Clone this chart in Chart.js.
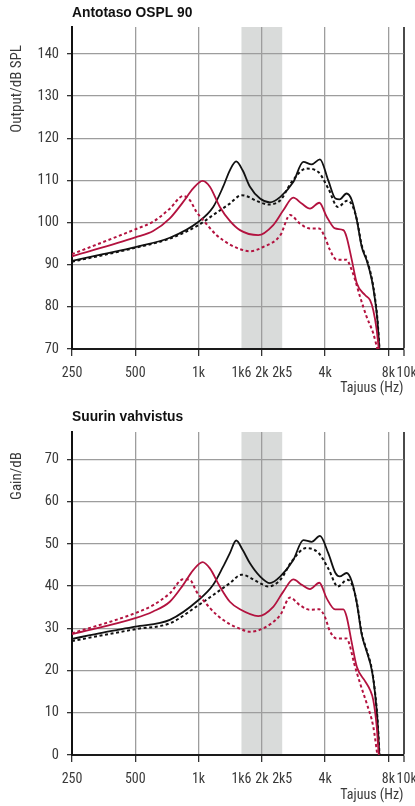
<!DOCTYPE html>
<html><head><meta charset="utf-8">
<script src="https://cdn.jsdelivr.net/npm/chart.js@4.4.1/dist/chart.umd.min.js"></script>
<style>
html,body{margin:0;padding:0;background:#fff;width:415px;height:806px;overflow:hidden}
.box{position:absolute;left:0;width:415px}
canvas{display:block}
</style></head><body>
<div class="box" style="top:0;height:403px"><canvas id="c1" width="415" height="403"></canvas></div>
<div class="box" style="top:405px;height:401px"><canvas id="c2" width="415" height="401"></canvas></div>
<script>
// ---------- data ----------
const xTickValues = [250, 500, 1000, 1600, 2000, 2500, 4000, 8000, 9440];
const xTickLabels = ['250', '500', '1k', '1k6', '2k', '2k5', '4k', '8k', '\u200210k'];
const outputTicks = [70, 80, 90, 100, 110, 120, 130, 140];
const gainTicks = [0, 10, 20, 30, 40, 50, 60, 70];
const bandFrom = 1600, bandTo = 2500;

// black solid
const freqBS = [250,351,500,730,1000,1174,1309,1409,1510,1620,1756,1960,2186,2450,2823,3150,3450,3780,4140,4480,4690,5060,5360,5660,5975,6310,6670,6915,7090,7250];
const osplBS = [90.9,92.5,94.2,96.4,100.2,103.7,108.5,112.4,114.5,112.4,108.5,105.7,104.8,106.1,109.6,114.4,113.8,115.0,110.0,105.7,105.5,106.9,105.3,100.6,94.2,91.0,86.4,81.6,76.9,70];
const gainBS = [27.5,29.0,30.4,32.0,36.7,40.3,44.6,47.8,50.8,48.6,45.4,42.3,40.7,42.3,46.2,50.9,50.5,51.9,47.8,43.1,42.3,43.1,41.1,36.0,28.5,24.5,20.1,14.5,8.5,0];

// black dotted
const freqBD = [250,500,730,1000,1174,1409,1600,1960,2144,2450,2770,3250,3712,4140,4600,5100,5360,5660,5975,6310,6670,6915,7090,7260];
const osplBD = [90.7,94.0,96.2,99.4,101.8,104.5,106.5,104.8,104.3,105.3,109.6,112.8,112.0,108.1,103.7,105.2,104.3,100.8,94.6,91.3,86.8,82.0,77.3,70];
const gainBD = [27.0,29.8,31.2,35.5,37.9,40.7,42.7,40.7,39.9,41.5,45.8,49.0,47.9,44.2,39.9,41.5,40.5,36.2,28.8,24.8,20.4,14.8,9.0,0];

// red solid
const freqRS = [250,500,608,730,845,943,1045,1132,1263,1409,1574,1923,2266,2530,2823,3095,3390,3755,4070,4460,4885,5060,5360,5660,6195,6545,6780,7040,7200];
const osplRS = [92.0,96.5,98.0,101.0,104.9,108.1,109.9,108.5,103.7,100.4,98.2,97.0,99.4,102.9,105.9,104.5,103.3,104.7,101.4,98.6,98.2,96.6,91.1,85.6,82.8,81.6,79.2,74.5,70];
const gainRS = [28.6,32.4,34.0,36.3,40.3,43.8,45.7,44.2,39.9,36.3,34.5,32.9,35.1,38.7,41.6,40.3,39.3,40.8,37.1,34.5,34.5,32.8,26.5,20.9,17.5,15.4,13.0,6.7,0];

// red dotted
const freqRD = [250,500,608,730,845,909,978,1051,1219,1409,1574,1756,2030,2450,2723,3030,3390,3750,4000,4200,4540,5070,5200,5500,5865,6300,6780,7090];
const osplRD = [92.5,98.4,100.2,103.3,106.3,105.3,102.5,100.6,97.0,94.8,93.7,93.2,94.2,97.0,101.8,99.8,98.6,98.6,96.4,93.7,91.2,91.2,90.3,87.1,82.4,77.7,73.7,70];
const gainRD = [28.8,33.6,35.5,38.3,41.6,41.5,38.7,36.7,33.2,31.0,29.9,29.2,30.0,33.2,37.3,35.5,34.4,34.5,32.6,29.5,27.6,27.6,26.5,21.7,17.0,12.3,6.7,0];

// ---------- style ----------
const NARROW = "'Roboto Condensed','Open Sans Condensed',sans-serif";
const SANS = "'Liberation Sans',Arial,sans-serif";
const RED = '#b3123f', BLACK = '#111111';
const GRID = '#9d9d9d', TXT = '#3a3a3a';

function pts(f, v) { return f.map((x, i) => ({ x: x, y: v[i] })); }

const deco = {
  id: 'deco',
  beforeDraw(chart, args, o) {
    const ctx = chart.ctx, a = chart.chartArea, x = chart.scales.x;
    const x1 = x.getPixelForValue(o.bandFrom), x2 = x.getPixelForValue(o.bandTo);
    ctx.save();
    ctx.fillStyle = '#d9dbda';
    ctx.fillRect(x1, a.top, x2 - x1, a.bottom - a.top);
    ctx.restore();
  },
  afterDraw(chart, args, o) {
    const ctx = chart.ctx, a = chart.chartArea;
    ctx.save();
    ctx.fillStyle = '#111';
    ctx.font = 'bold 13.8px ' + SANS;
    ctx.textAlign = 'left'; ctx.textBaseline = 'middle';
    ctx.fillText(o.title, a.left, o.titleY);
    ctx.fillStyle = TXT;
    ctx.font = '14px ' + NARROW;
    ctx.textAlign = 'right';
    ctx.fillText(o.xTitle, a.right, o.xTitleY);
    ctx.font = '15px ' + NARROW;
    ctx.translate(o.yTitleX, o.yTitleY);
    ctx.rotate(-Math.PI / 2);
    ctx.textAlign = 'right';
    ctx.fillText(o.yTitle, 0, 0);
    ctx.restore();
  }
};

function makeChart(id, yMin, yMax, yTicks, series, xAxisH, texts) {
  const ds = [
    { data: pts(freqRD, series.rd), borderColor: RED, borderWidth: 2, borderDash: [3, 2.6] },
    { data: pts(freqRS, series.rs), borderColor: RED, borderWidth: 1.8 },
    { data: pts(freqBD, series.bd), borderColor: BLACK, borderWidth: 2, borderDash: [3, 2.6] },
    { data: pts(freqBS, series.bs), borderColor: BLACK, borderWidth: 1.8 }
  ].map(d => Object.assign(d, { pointRadius: 0, fill: false, cubicInterpolationMode: 'monotone' }));

  return new Chart(document.getElementById(id), {
    type: 'line',
    data: { datasets: ds },
    plugins: [deco],
    options: {
      responsive: false, animation: false,
      layout: { padding: { top: 27, right: 11.5, left: 0, bottom: 0 } },
      plugins: {
        legend: { display: false }, tooltip: { enabled: false },
        deco: Object.assign({ bandFrom: bandFrom, bandTo: bandTo }, texts)
      },
      scales: {
        x: {
          type: 'logarithmic', min: 250, max: 9440,
          afterBuildTicks: s => { s.ticks = xTickValues.map(v => ({ value: v })); },
          afterFit: s => { s.height = xAxisH; s.paddingLeft = 0; s.paddingRight = 0; },
          ticks: {
            autoSkip: false, maxRotation: 0, minRotation: 0, padding: 9, color: TXT,
            font: { family: NARROW, size: 14 },
            callback: (v, i) => xTickLabels[i]
          },
          grid: {
            color: c => {
              const v = c.tick && c.tick.value;
              if (v === 1600 || v === 2500 || v === 250) return 'rgba(0,0,0,0)';
              if (v === 9440) return '#4a4a4a';
              return GRID;
            },
            lineWidth: c => (c.tick && c.tick.value === 9440) ? 2 : 1.3,
            tickColor: c => {
              const v = c.tick && c.tick.value;
              return (v === 1600 || v === 2500) ? 'rgba(0,0,0,0)' : '#333';
            },
            tickLength: 7, tickWidth: 1.3
          },
          border: { color: '#1a1a1a', width: 2 }
        },
        y: {
          min: yMin, max: yMax,
          afterBuildTicks: s => { s.ticks = yTicks.map(v => ({ value: v })); },
          afterFit: s => { s.width = 72; s.paddingTop = 0; s.paddingBottom = 0; },
          ticks: { padding: 8, color: TXT, font: { family: NARROW, size: 14.5 } },
          grid: {
            color: c => (c.tick && c.tick.value === yMin) ? 'rgba(0,0,0,0)' : GRID,
            lineWidth: 1.3, tickLength: 5, tickColor: '#333', tickWidth: 1.3
          },
          border: { color: '#111', width: 2 }
        }
      }
    }
  });
}

makeChart('c1', 70, 146.4, outputTicks,
  { bs: osplBS, bd: osplBD, rs: osplRS, rd: osplRD }, 54,
  { title: 'Antotaso OSPL 90', titleY: 13, xTitle: 'Tajuus (Hz)', xTitleY: 388, yTitle: 'Output/dB SPL', yTitleX: 17, yTitleY: 45 });

makeChart('c2', 0, 76.5, gainTicks,
  { bs: gainBS, bd: gainBD, rs: gainRS, rd: gainRD }, 51,
  { title: 'Suurin vahvistus', titleY: 12, xTitle: 'Tajuus (Hz)', xTitleY: 390, yTitle: 'Gain/dB', yTitleX: 17, yTitleY: 47 });
</script></body></html>
